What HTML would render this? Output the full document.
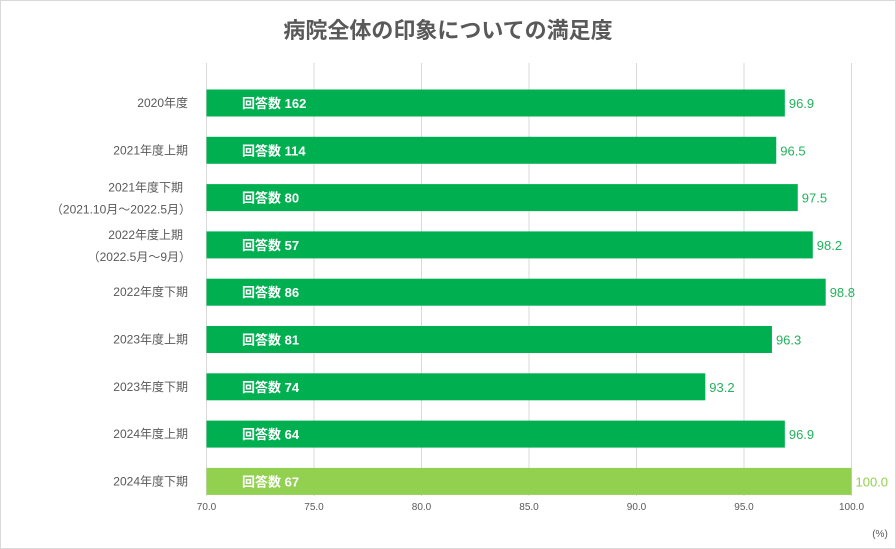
<!DOCTYPE html>
<html><head><meta charset="utf-8"><style>
body{margin:0;background:#fff;}
svg{display:block;font-family:"Liberation Sans","Noto Sans CJK JP",sans-serif;}
</style></head><body>
<svg width="896" height="549" id="chart">
<rect x="0.5" y="0.5" width="895" height="548" fill="#fff" stroke="#d9d9d9"/>
<text x="448" y="38" text-anchor="middle" font-size="22" font-weight="bold" fill="#595959">病院全体の印象についての満足度</text>
<text x="880" y="537" text-anchor="middle" font-size="10" fill="#595959">(%)</text>
</svg>
<script>
const categories=[["2020年度"],["2021年度上期"],["2021年度下期","（2021.10月～2022.5月）"],["2022年度上期","（2022.5月～9月）"],["2022年度下期"],["2023年度上期"],["2023年度下期"],["2024年度上期"],["2024年度下期"]];
const values=[96.9,96.5,97.5,98.2,98.8,96.3,93.2,96.9,100.0];
const counts=[162,114,80,57,86,81,74,64,67];
const ticks=[70,75,80,85,90,95,100];
const NS="http://www.w3.org/2000/svg";
const svgEl=document.getElementById('chart');
const x0=206.5,x1=851.5,plotTop=63,plotBottom=496;
const xs=v=>x0+(v-70)/30*(x1-x0);
const yc=i=>103+i*47.3;
function mk(t,a){const e=document.createElementNS(NS,t);for(const k in a)e.setAttribute(k,a[k]);svgEl.appendChild(e);return e;}
ticks.forEach(t=>{
 const g=mk('line',{x1:xs(t),x2:xs(t),y1:plotTop,y2:plotBottom,stroke:'#d9d9d9'});
 
 
 const l=mk('text',{x:xs(t),y:510,'text-anchor':'middle','font-size':10,fill:'#595959'});
 l.textContent=t.toFixed(1);
 
 
});
values.forEach((v,i)=>{
 const last=i===values.length-1;
 const col=last?'#92d050':'#00b050';
 const y=yc(i);
 const b=mk('rect',{x:x0,y:y-13.5,width:xs(v)-x0,height:27,fill:col});
 
 
 const t=mk('text',{x:242,y:y+5,'font-size':13,'font-weight':'bold',fill:'#fff'});
 t.textContent='回答数 '+counts[i];
 
 
 const vl=mk('text',{x:xs(v)+4,y:y+5,'font-size':13,fill:last?'#92d050':'#22b35b'});
 vl.textContent=v.toFixed(1);
 
 
 const lines=categories[i];
 lines.forEach((s,j)=>{
  const cl=mk('text',{x:lines.length>1?(j===0?183:191):188,y:y+4+(lines.length>1?(j===0?-10:12):0),'text-anchor':'end','font-size':12,fill:'#595959'});
  cl.textContent=s;
  
  
 });
});
</script>
</body></html>
